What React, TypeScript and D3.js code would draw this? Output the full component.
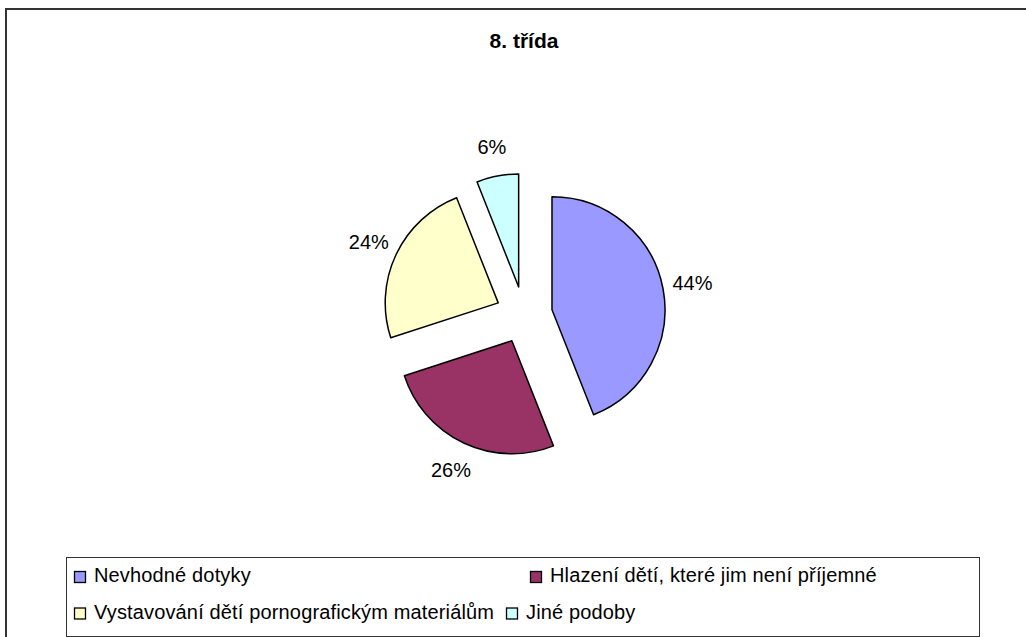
import { useMemo } from 'react';
import * as d3 from 'd3';

const title = '8. třída';
const categories = [
  'Nevhodné dotyky',
  'Hlazení dětí, které jim není příjemné',
  'Vystavování dětí pornografickým materiálům',
  'Jiné podoby',
];
const values = [44, 26, 24, 6];
const colors = ['#9999FF', '#993366', '#FFFFCC', '#CCFFFF'];

const W = 1026;
const H = 637;
const font = '"Liberation Sans", Arial, sans-serif';

// legend slots (row, x of swatch) as excel laid them out
const legendPos = [
  { x: 74, y: 582 },
  { x: 530, y: 582 },
  { x: 74, y: 618.5 },
  { x: 506, y: 618.5 },
];

export default function App() {
  const cx = 524;
  const cy = 315;
  const radius = 113;
  const explode = 28.5;
  const labelR = 143;

  const arcs = useMemo(
    () =>
      d3
        .pie<number>()
        .sort(null)
        .value((d) => d)(values),
    []
  );

  const arc = d3.arc<d3.PieArcDatum<number>>().innerRadius(0).outerRadius(radius);

  return (
    <svg
      width={W}
      height={H}
      style={{ position: 'absolute', left: 0, top: 0, background: '#fff' }}
      fontFamily={font}
    >
      {/* chart frame */}
      <rect x={6} y={9} width={W + 10} height={H + 10} fill="#fff" stroke="#333" strokeWidth={2} />

      <text x={cx} y={48} textAnchor="middle" fontWeight="bold" fontSize={21}>
        {title}
      </text>

      <g transform={`translate(${cx},${cy})`}>
        {arcs.map((d, i) => {
          const m = (d.startAngle + d.endAngle) / 2;
          const ox = Math.sin(m) * explode;
          const oy = -Math.cos(m) * explode;
          const lx = ox + Math.sin(m) * labelR;
          const ly = oy - Math.cos(m) * labelR;
          return (
            <g key={i}>
              <path
                d={arc(d) ?? ''}
                transform={`translate(${ox},${oy})`}
                fill={colors[i]}
                stroke="#000"
                strokeWidth={1.5}
                strokeLinejoin="round"
              />
              <text x={lx} y={ly} dy="0.36em" textAnchor="middle" fontSize={20}>
                {`${values[i]}%`}
              </text>
            </g>
          );
        })}
      </g>

      {/* legend */}
      <rect x={66.5} y={557.5} width={913} height={79} fill="#fff" stroke="#333" strokeWidth={1} />
      {categories.map((c, i) => (
        <g key={c}>
          <rect
            x={legendPos[i].x + 0.5}
            y={legendPos[i].y - 10.5}
            width={11}
            height={11}
            fill={colors[i]}
            stroke="#000"
            strokeWidth={1.3}
          />
          <text x={legendPos[i].x + 20} y={legendPos[i].y} fontSize={20} letterSpacing={0.15}>
            {c}
          </text>
        </g>
      ))}
    </svg>
  );
}
